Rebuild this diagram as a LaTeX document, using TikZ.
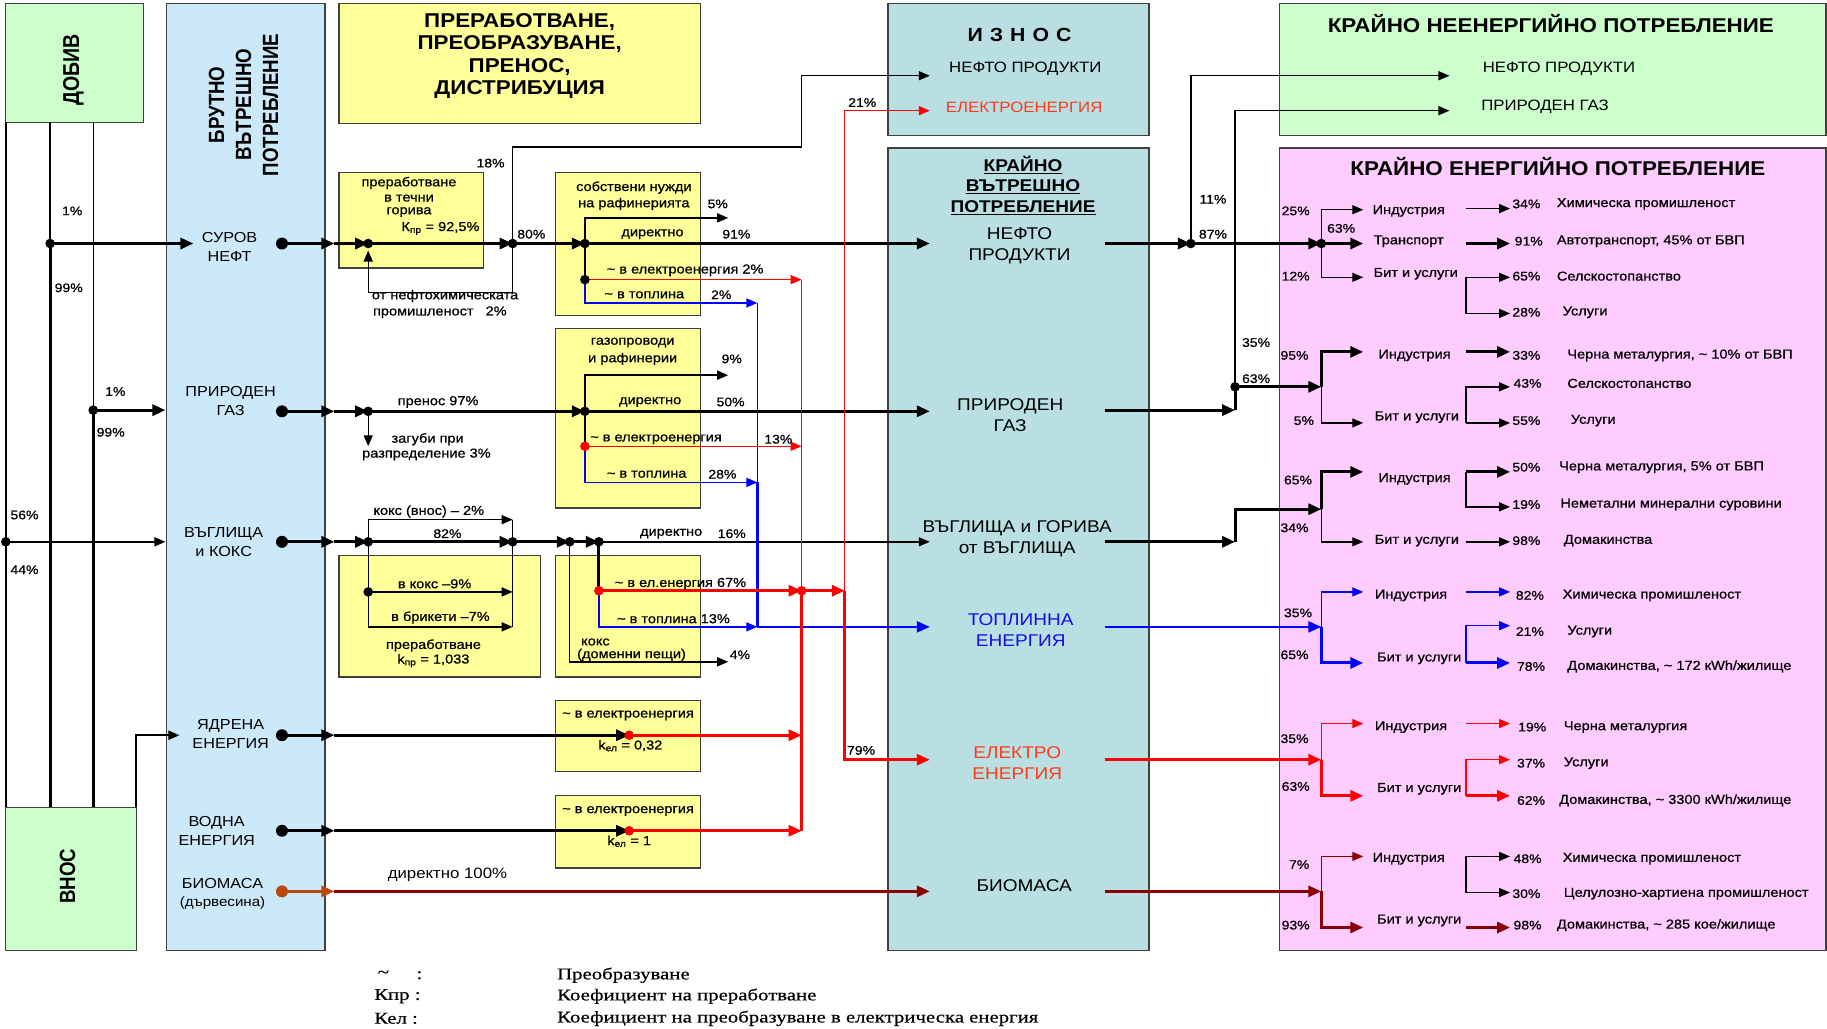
\documentclass[tikz,border=0pt]{standalone}
\usepackage{fontspec}
\setmainfont{Liberation Sans}[FakeStretch=1.12]
\newfontfamily\smallf{Liberation Sans}[FakeStretch=1.12,FakeBold=0.7]
\newfontfamily\rotfont{Liberation Sans}[FakeStretch=0.85]
\newfontfamily\legfont{Liberation Serif}[FakeStretch=1.26,FakeBold=0.5]
\usetikzlibrary{arrows.meta,fit}
\definecolor{gbox}{HTML}{CCFFCC}
\definecolor{bbox}{HTML}{CCE9FA}
\definecolor{ybox}{HTML}{FFFF99}
\definecolor{tbox}{HTML}{B9DFE3}
\definecolor{pbox}{HTML}{FFCCFF}
\definecolor{fred}{HTML}{FF0000}
\definecolor{fblue}{HTML}{0000FF}
\definecolor{fdark}{HTML}{8B0000}
\definecolor{fbrown}{HTML}{B8480C}
\definecolor{tred}{HTML}{FF3A1A}
\definecolor{tblue}{HTML}{1010E0}
\definecolor{edge}{HTML}{404040}
\newcounter{lblc}
\newcommand\lab[3][]{\stepcounter{lblc}\node[tx,#1] (lbl\number\value{lblc}) at (#2) {#3};}
\newcommand\jdotx[2][black]{\fill[#1] (#2) circle[radius=4.8pt];}
\newcommand\rowdot[2][black]{\fill[#1] (#2) circle[radius=6pt];}
\tikzset{
  panel/.style={draw=edge,line width=1.3pt,inner sep=0pt},
  fa/.style={line width=1.4pt},
  fb/.style={line width=3pt},
  fm/.style={line width=2.3pt},
  tipa/.style={-{Triangle[length=11pt,width=9pt]}},
  tipb/.style={-{Triangle[length=13pt,width=11pt]}},
  tx/.style={inner sep=0pt,font=\smallf\fontsize{13}{14.5}\selectfont},
  pc/.style={inner sep=0pt,font=\smallf\fontsize{12.5}{14}\selectfont},
  rowl/.style={inner sep=0pt,align=center,font=\fontsize{14.5}{18.6}\selectfont},
  kvl/.style={inner sep=0pt,align=center,font=\fontsize{17}{21}\selectfont},
  exl/.style={inner sep=0pt,font=\fontsize{15}{18}\selectfont},
  ttl/.style={inner sep=0pt,align=center,font=\bfseries\fontsize{20}{22.4}\selectfont},
  pk/.style={anchor=west},
  leg/.style={inner sep=0pt,anchor=west,font=\legfont\fontsize{16.5}{18}\selectfont},
}
\begin{document}
\begin{tikzpicture}[x=1.1652pt,y=-1.1652pt]
\useasboundingbox (0,0) rectangle (1568,883);
\fill[white] (0,0) rectangle (1568,883);

% ---------- panels ----------
\node[panel,fill=gbox,fit={(5,3) (123,105)}] (dobiv) {};
\node[panel,fill=gbox,fit={(5,693) (117,816)}] (vnos) {};
\node[panel,fill=bbox,fit={(143,3) (279,816)}] (bvp) {};
\node[panel,fill=ybox,fit={(291,3) (601,106)}] (prep) {};
\node[panel,fill=tbox,fit={(762,3) (986,116)}] (iznos) {};
\node[panel,fill=tbox,fit={(762,127) (986,816)}] (kvp) {};
\node[panel,fill=gbox,fit={(1098,3) (1567,116)}] (kne) {};
\node[panel,fill=pbox,fit={(1098,127) (1567,816)}] (kep) {};
\node[panel,fill=ybox,fit={(291,148) (415,230)}] (y1) {};
\node[panel,fill=ybox,fit={(477,148) (601,271)}] (y2) {};
\node[panel,fill=ybox,fit={(477,282) (601,436)}] (y3) {};
\node[panel,fill=ybox,fit={(291,477) (464,581)}] (y4) {};
\node[panel,fill=ybox,fit={(477,477) (601,581)}] (y5) {};
\node[panel,fill=ybox,fit={(477,601) (601,662)}] (y6) {};
\node[panel,fill=ybox,fit={(477,683) (601,745)}] (y7) {};

% ---------- panel titles ----------
\node[inner sep=0pt,rotate=90,font=\rotfont\bfseries\fontsize{23}{26}\selectfont] (tdob) at (63,60) {ДОБИВ};
\node[inner sep=0pt,rotate=90,font=\rotfont\bfseries\fontsize{22}{26}\selectfont] (tvnos) at (58,752) {ВНОС};
\node[inner sep=0pt,rotate=90,align=center,font=\rotfont\bfseries\fontsize{22}{27}\selectfont] (tbvp) at (209,90) {БРУТНО\\ВЪТРЕШНО\\ПОТРЕБЛЕНИЕ};
\node[ttl] (tprep) at (446,48) {ПРЕРАБОТВАНЕ,\\ПРЕОБРАЗУВАНЕ,\\ПРЕНОС,\\ДИСТРИБУЦИЯ};
\node[inner sep=0pt,font=\bfseries\fontsize{19}{22}\selectfont] (tizn) at (875,30) {И\hspace{7pt}З\hspace{7pt}Н\hspace{7pt}О\hspace{7pt}С};
\node[inner sep=0pt,align=center,font=\bfseries\fontsize{17}{20.7}\selectfont] (tkvp) at (878,159) {\underline{КРАЙНО}\\\underline{ВЪТРЕШНО}\\\underline{ПОТРЕБЛЕНИЕ}};
\node[ttl] (tkne) at (1331,20) {КРАЙНО НЕЕНЕРГИЙНО ПОТРЕБЛЕНИЕ};
\node[ttl] (tkep) at (1337,143) {КРАЙНО ЕНЕРГИЙНО ПОТРЕБЛЕНИЕ};

% ---------- left: production / import ----------
\coordinate (d0) at (5,105); \coordinate (v0) at (5,693);
\coordinate (d1) at (43,105); \coordinate (v1) at (43,693);
\coordinate (d2) at (80,105); \coordinate (v2) at (80,693);
\coordinate (j0) at (5,465); \coordinate (j1) at (43,209); \coordinate (j2) at (80,352);
\coordinate (oIn) at (166,209); \coordinate (gIn) at (142,352); \coordinate (cIn) at (142,465);
\coordinate (vC) at (117,693); \coordinate (nIn) at (154,631);
\draw[fa] (d0) -- (v0);
\draw[fa] (d1) -- (j1); \draw[fb] (j1) -- (v1);
\draw[fa] (d2) -- (j2); \draw[fb] (j2) -- (v2);
\draw[fb,tipb] (j1) -- (oIn);
\draw[fb,tipb] (j2) -- (gIn);
\draw[fa,tipa] (j0) -- (cIn);
\draw[line width=2pt,tipa] (vC) |- (nIn);
\jdotx[black]{j0} \jdotx[black]{j1} \jdotx[black]{j2}
\lab[pc]{62,181}{1\%} \lab[pc]{59,247}{99\%}
\lab[pc]{99,336}{1\%} \lab[pc]{95,371}{99\%}
\lab[pc]{21,442}{56\%} \lab[pc]{21,489}{44\%}

% ---------- gross consumption labels ----------
\lab[rowl]{197,212}{СУРОВ\\НЕФТ}
\lab[rowl]{198,344}{ПРИРОДЕН\\ГАЗ}
\lab[rowl]{192,465}{ВЪГЛИЩА\\и КОКС}
\lab[rowl]{198,630}{ЯДРЕНА\\ЕНЕРГИЯ}
\lab[rowl]{186,713}{ВОДНА\\ЕНЕРГИЯ}
\lab[rowl]{191,767}{БИОМАСА\\{\fontsize{13.5}{16}\selectfont(дървесина)}}

% ---------- oil ----------
\coordinate (oS) at (242,209); \coordinate (oE) at (287,209);
\coordinate (oJ1) at (316,209); \coordinate (oJ2) at (440,209); \coordinate (oJ3) at (502,209);
\coordinate (oK) at (798,209);
\coordinate (x18) at (688,126); \coordinate (eN) at (798,65);
\coordinate (fb1) at (316,251); \coordinate (fb2) at (316,215);
\coordinate (o5) at (625,187); \coordinate (oD) at (502,240);
\coordinate (oR) at (688,240); \coordinate (oB) at (650,260);
\draw[fb,tipb] (oS) -- (oE);
\draw[fb,tipb] (oE) -- (oJ1);
\draw[fb,tipb] (oJ1) -- (oJ2);
\draw[fb,tipb] (oJ2) -- (oJ3);
\draw[fb,tipb] (oJ3) -- (oK);
\draw[fa,tipa] (oJ2) |- (x18) |- (eN);
\draw[fa,tipa] (oJ2) |- (fb1) -- (fb2);
\draw[fa,tipa] (oJ3) |- (o5);
\draw[fa] (oJ3) -- (oD);
\draw[fred,fa,tipa] (oD) -- (oR);
\draw[fblue,fa,tipa] (oD) |- (oB);

% ---------- gas ----------
\coordinate (gS) at (242,353); \coordinate (gE) at (287,353);
\coordinate (gJ1) at (316,353); \coordinate (gJ2) at (502,353); \coordinate (gK) at (798,353);
\coordinate (gL) at (316,383); \coordinate (g9) at (625,322);
\coordinate (gD) at (502,383); \coordinate (gR) at (688,383); \coordinate (gB) at (650,414);
\draw[fb,tipb] (gS) -- (gE);
\draw[fb,tipb] (gE) -- (gJ1);
\draw[fb,tipb] (gJ1) -- (gJ2);
\draw[fb,tipb] (gJ2) -- (gK);
\draw[fa,tipa] (gJ1) -- (gL);
\draw[fa,tipa] (gJ2) |- (g9);
\draw[fa] (gJ2) -- (gD);
\draw[fred,fa,tipa] (gD) -- (gR);
\draw[fblue,fa,tipa] (gD) |- (gB);

% ---------- coal ----------
\coordinate (cS) at (242,465); \coordinate (cE) at (287,465);
\coordinate (cJ1) at (316,465); \coordinate (cJ2) at (440,465);
\coordinate (cJ3) at (489,465); \coordinate (cJ4) at (514,465); \coordinate (cK) at (798,465);
\coordinate (cT) at (440,446); \coordinate (cV) at (440,538);
\coordinate (cB0) at (316,538); \coordinate (cK0) at (316,508); \coordinate (cK9) at (440,508);
\coordinate (c4) at (625,568); \coordinate (cD) at (514,507);
\coordinate (rJ) at (688,507); \coordinate (rX) at (725,507);
\coordinate (cBl) at (650,538); \coordinate (hK) at (798,538);
\draw[fb,tipb] (cS) -- (cE);
\draw[fb,tipb] (cE) -- (cJ1);
\draw[fb,tipb] (cJ1) -- (cJ2);
\draw[fb,tipb] (cJ2) -- (cJ3);
\draw[fb,tipb] (cJ3) -- (cJ4);
\draw[fa,tipa] (cJ4) -- (cK);
\draw[fa,tipa] (cJ1) |- (cT);
\draw[fa] (cT) -- (cV);
\draw[fa] (cJ1) -- (cB0);
\draw[fa,tipa] (cK0) -- (cK9);
\draw[fa,tipa] (cB0) -- (cV);
\draw[fa,tipa] (cJ3) |- (c4);
\draw[fb] (cJ4) -- (cD);
\draw[fblue,fa,tipa] (cD) |- (cBl);

% ---------- nuclear, hydro ----------
\coordinate (nS) at (242,631); \coordinate (nE) at (287,631);
\coordinate (nD) at (540,631); \coordinate (nR) at (688,631);
\coordinate (hS) at (242,713); \coordinate (hE) at (287,713);
\coordinate (hD) at (540,713); \coordinate (hR) at (688,713);
\draw[fb,tipb] (nS) -- (nE);
\draw[fb,tipb] (nE) -- (nD);
\draw[fred,fb,tipb] (nD) -- (nR);
\draw[fb,tipb] (hS) -- (hE);
\draw[fb,tipb] (hE) -- (hD);
\draw[fred,fb,tipb] (hD) -- (hR);

% ---------- collectors ----------
\draw[fblue,fa] (oB) -- (gB);
\draw[fblue,fm] (gB) -- (cBl);
\draw[fblue,fm,tipb] (cBl) -- (hK);
\draw[fred,fa] (oR) -- (rJ);
\draw[fred,fb] (rJ) -- (hR);
\draw[fred,fb,tipb] (cD) -- (rJ);
\draw[fred,fb,tipb] (rJ) -- (rX);
\coordinate (e21) at (798,95); \coordinate (eK) at (798,652);
\draw[fred,fa,tipa] (rX) |- (e21);
\draw[fred,fb,tipb] (rX) |- (eK);

% ---------- biomass ----------
\coordinate (bS) at (242,765); \coordinate (bE) at (287,765); \coordinate (bK) at (798,765);
\draw[fbrown,fb,tipb] (bS) -- (bE);
\draw[fdark,fb,tipb] (bE) -- (bK);

% ---------- dots (left/middle) ----------
\rowdot{oS} \rowdot{gS} \rowdot{cS} \rowdot{nS} \rowdot{hS} \rowdot[fbrown]{bS}
\jdotx{oJ1} \jdotx{oJ2} \jdotx{oJ3} \jdotx{oD}
\jdotx{gJ1} \jdotx{gJ2} \jdotx[fred]{gD}
\jdotx{cJ1} \jdotx{cJ2} \jdotx{cJ3} \jdotx{cJ4} \jdotx{cK0} \jdotx[fred]{cD} \jdotx[fred]{rJ}
\jdotx[fred]{nD} \jdotx[fred]{hD}

% ---------- processing texts ----------
\lab{351,157}{преработване}
\lab{351,170}{в течни}
\lab{351,182}{горива}
\lab{378,196}{К\textsubscript{пр} = 92,5\%}
\lab[pc]{421,140}{18\%}
\lab[pc]{456,201}{80\%}
\lab[pk]{319,254}{от нефтохимическата}
\lab[pk]{320,268}{промишленост\hspace{12pt}2\%}
\lab{544,161}{собствени нужди}
\lab{544,175}{на рафинерията}
\lab[pc]{616,175}{5\%}
\lab{560,201}{директно}
\lab[pc]{632,201}{91\%}
\lab{588,232}{\textasciitilde{} в електроенергия 2\%}
\lab{553,253}{\textasciitilde{} в топлина}
\lab[pc]{619,253}{2\%}
\lab{543,294}{газопроводи}
\lab{543,308}{и рафинерии}
\lab[pc]{628,308}{9\%}
\lab{376,345}{пренос 97\%}
\lab{558,345}{директно}
\lab[pc]{627,345}{50\%}
\lab{563,377}{\textasciitilde{} в електроенергия}
\lab[pc]{668,377}{13\%}
\lab{555,407}{\textasciitilde{} в топлина}
\lab[pc]{620,407}{28\%}
\lab{367,377}{загуби при}
\lab{366,390}{разпределение 3\%}
\lab{368,439}{кокс (внос) – 2\%}
\lab[pc]{384,458}{82\%}
\lab{373,501}{в кокс –9\%}
\lab{378,530}{в брикети –7\%}
\lab{372,554}{преработване}
\lab{372,567}{k\textsubscript{пр} = 1,033}
\lab{576,458}{директно}
\lab[pc]{628,458}{16\%}
\lab{584,501}{\textasciitilde{} в ел.енергия 67\%}
\lab{578,531}{\textasciitilde{} в топлина 13\%}
\lab{511,551}{кокс}
\lab{542,562}{(доменни пещи)}
\lab[pc]{635,562}{4\%}
\lab{539,614}{\textasciitilde{} в електроенергия}
\lab{541,640}{k\textsubscript{ел} = 0,32}
\lab{539,696}{\textasciitilde{} в електроенергия}
\lab{540,722}{k\textsubscript{ел} = 1}
\lab[font=\fontsize{15}{17}\selectfont]{384,751}{директно 100\%}
\lab[pc]{740,88}{21\%}
\lab[pc]{739,644}{79\%}

% ---------- export / final domestic ----------
\lab[exl]{880,59}{НЕФТО ПРОДУКТИ}
\lab[exl,text=tred]{879,92}{ЕЛЕКТРОЕНЕРГИЯ}
\lab[kvl]{875,211}{НЕФТО\\ПРОДУКТИ}
\lab[kvl]{867,356}{ПРИРОДЕН\\ГАЗ}
\lab[kvl]{873,462}{ВЪГЛИЩА и ГОРИВА\\от ВЪГЛИЩА}
\lab[kvl,text=tblue]{876,541}{ТОПЛИННА\\ЕНЕРГИЯ}
\lab[kvl,text=tred]{873,655}{ЕЛЕКТРО\\ЕНЕРГИЯ}
\lab[kvl]{879,760}{БИОМАСА}
\lab[exl]{1338,59}{НЕФТО ПРОДУКТИ}
\lab[exl]{1326,92}{ПРИРОДЕН ГАЗ}

% ---------- right flows ----------
\coordinate (oO) at (948,209); \coordinate (oN) at (1022,209); \coordinate (oP) at (1134,209);
\coordinate (neN) at (1244,65);
\coordinate (gO) at (948,352); \coordinate (gA) at (1060,352); \coordinate (gN) at (1060,332);
\coordinate (gP) at (1134,332); \coordinate (neG) at (1244,95);
\coordinate (cO) at (948,465); \coordinate (cA) at (1060,465); \coordinate (cP) at (1134,437);
\coordinate (hO) at (948,538); \coordinate (hP) at (1134,538);
\coordinate (eO) at (948,652); \coordinate (eP) at (1134,652);
\coordinate (bO) at (948,765); \coordinate (bP) at (1134,765);
\draw[fb,tipb] (oO) -- (oN);
\draw[fb,tipb] (oN) -- (oP);
\draw[fa,tipa] (oN) |- (neN);
\draw[fb,tipb] (gO) -- (gA);
\draw[fb] (gA) -- (gN);
\draw[fa,tipa] (gN) |- (neG);
\draw[fb,tipb] (gN) -- (gP);
\draw[fb,tipb] (cO) -- (cA);
\draw[fb,tipb] (cA) |- (cP);
\draw[fblue,fm,tipb] (hO) -- (hP);
\draw[fred,fb,tipb] (eO) -- (eP);
\draw[fdark,fb,tipb] (bO) -- (bP);
\jdotx{oN} \jdotx{oP} \jdotx{gN}

% first-level forks
\coordinate (f1a) at (1170,180); \coordinate (f1b) at (1170,209); \coordinate (f1c) at (1170,238);
\coordinate (f2a) at (1170,302); \coordinate (f2b) at (1170,363);
\coordinate (f3a) at (1170,405); \coordinate (f3b) at (1170,465);
\coordinate (f4a) at (1170,508); \coordinate (f4b) at (1170,569);
\coordinate (f5a) at (1170,621); \coordinate (f5b) at (1170,683);
\coordinate (f6a) at (1170,735); \coordinate (f6b) at (1170,796);
\draw[fa,tipa] (oP) |- (f1a);
\draw[fb,tipb] (oP) -- (f1b);
\draw[fa,tipa] (oP) |- (f1c);
\draw[fb,tipb] (gP) |- (f2a);
\draw[fa,tipa] (gP) |- (f2b);
\draw[fb,tipb] (cP) |- (f3a);
\draw[fa,tipa] (cP) |- (f3b);
\draw[fblue,fa,tipa] (hP) |- (f4a);
\draw[fblue,fb,tipb] (hP) |- (f4b);
\draw[fred,fa,tipa] (eP) |- (f5a);
\draw[fred,fb,tipb] (eP) |- (f5b);
\draw[fdark,fa,tipa] (bP) |- (f6a);
\draw[fdark,fb,tipb] (bP) |- (f6b);

% second-level arrows
\coordinate (s1a) at (1258,179); \coordinate (t1a) at (1296,179);
\coordinate (s1b) at (1258,209); \coordinate (t1b) at (1296,209);
\coordinate (s1c) at (1258,238); \coordinate (t1c) at (1296,238); \coordinate (t1d) at (1296,269);
\draw[fa,tipa] (s1a) -- (t1a);
\draw[fb,tipb] (s1b) -- (t1b);
\draw[fa,tipa] (s1c) -- (t1c);
\draw[fa,tipa] (s1c) |- (t1d);
\coordinate (s2a) at (1258,302); \coordinate (t2a) at (1296,302);
\coordinate (s2b) at (1258,363); \coordinate (t2b) at (1296,363); \coordinate (t2c) at (1296,332);
\draw[fb,tipb] (s2a) -- (t2a);
\draw[fa,tipa] (s2b) -- (t2b);
\draw[fa,tipa] (s2b) |- (t2c);
\coordinate (s3a) at (1258,405); \coordinate (t3a) at (1296,405); \coordinate (t3b) at (1296,435);
\coordinate (s3c) at (1258,465); \coordinate (t3c) at (1296,465);
\draw[fb,tipb] (s3a) -- (t3a);
\draw[fa,tipa] (s3a) |- (t3b);
\draw[fa,tipa] (s3c) -- (t3c);
\coordinate (s4a) at (1258,508); \coordinate (t4a) at (1296,508);
\coordinate (s4b) at (1258,569); \coordinate (t4b) at (1296,569); \coordinate (t4c) at (1296,537);
\draw[fblue,fa,tipa] (s4a) -- (t4a);
\draw[fblue,fb,tipb] (s4b) -- (t4b);
\draw[fblue,fa,tipa] (s4b) |- (t4c);
\coordinate (s5a) at (1258,621); \coordinate (t5a) at (1296,621);
\coordinate (s5b) at (1258,683); \coordinate (t5b) at (1296,683); \coordinate (t5c) at (1296,652);
\draw[fred,fa,tipa] (s5a) -- (t5a);
\draw[fred,fb,tipb] (s5b) -- (t5b);
\draw[fred,fa,tipa] (s5b) |- (t5c);
\coordinate (s6a) at (1258,735); \coordinate (t6a) at (1296,735); \coordinate (t6b) at (1296,766);
\coordinate (s6c) at (1258,796); \coordinate (t6c) at (1296,796);
\draw[fa,tipa] (s6a) -- (t6a);
\draw[fa,tipa] (s6a) |- (t6b);
\draw[fdark,fb,tipb] (s6c) -- (t6c);

% ---------- right percentages ----------
\lab[pc]{1041,171}{11\%} \lab[pc]{1041,201}{87\%}
\lab[pc]{1078,294}{35\%} \lab[pc]{1078,325}{63\%}
\lab[pc]{1112,181}{25\%} \lab[pc]{1151,196}{63\%} \lab[pc]{1112,237}{12\%}
\lab[pc]{1111,305}{95\%} \lab[pc]{1119,361}{5\%}
\lab[pc]{1114,412}{65\%} \lab[pc]{1111,453}{34\%}
\lab[pc]{1114,526}{35\%} \lab[pc]{1111,562}{65\%}
\lab[pc]{1111,634}{35\%} \lab[pc]{1112,675}{63\%}
\lab[pc]{1115,742}{7\%} \lab[pc]{1112,794}{93\%}

% ---------- pink texts ----------
\lab{1209,181}{Индустрия} \lab{1209,207}{Транспорт} \lab{1215,235}{Бит и услуги}
\lab[pc]{1310,175}{34\%} \lab[pk]{1336,175}{Химическа промишленост}
\lab[pc]{1312,207}{91\%} \lab[pk]{1336,207}{Автотранспорт, 45\% от БВП}
\lab[pc]{1310,237}{65\%} \lab[pk]{1336,237}{Селскостопанство}
\lab[pc]{1310,268}{28\%} \lab[pk]{1341,268}{Услуги}

\lab{1214,305}{Индустрия} \lab{1216,358}{Бит и услуги}
\lab[pc]{1310,305}{33\%} \lab[pk]{1345,305}{Черна металургия, \textasciitilde{} 10\% от БВП}
\lab[pc]{1311,329}{43\%} \lab[pk]{1345,329}{Селскостопанство}
\lab[pc]{1310,361}{55\%} \lab[pk]{1348,361}{Услуги}

\lab{1214,411}{Индустрия} \lab{1216,464}{Бит и услуги}
\lab[pc]{1310,401}{50\%} \lab[pk]{1338,401}{Черна металургия, 5\% от БВП}
\lab[pc]{1310,433}{19\%} \lab[pk]{1339,433}{Неметални минерални суровини}
\lab[pc]{1310,464}{98\%} \lab[pk]{1342,464}{Домакинства}

\lab{1211,511}{Индустрия} \lab{1218,565}{Бит и услуги}
\lab[pc]{1313,511}{82\%} \lab[pk]{1341,511}{Химическа промишленост}
\lab[pc]{1313,542}{21\%} \lab[pk]{1345,542}{Услуги}
\lab[pc]{1314,572}{78\%} \lab[pk]{1345,572}{Домакинства, \textasciitilde{} 172 кWh/жилище}

\lab{1211,624}{Индустрия} \lab{1218,677}{Бит и услуги}
\lab[pc]{1315,624}{19\%} \lab[pk]{1342,624}{Черна металургия}
\lab[pc]{1314,655}{37\%} \lab[pk]{1342,655}{Услуги}
\lab[pc]{1314,687}{62\%} \lab[pk]{1338,687}{Домакинства, \textasciitilde{} 3300 кWh/жилище}

\lab{1209,737}{Индустрия} \lab{1218,790}{Бит и услуги}
\lab[pc]{1311,737}{48\%} \lab[pk]{1341,737}{Химическа промишленост}
\lab[pc]{1310,767}{30\%} \lab[pk]{1342,767}{Целулозно-хартиена промишленост}
\lab[pc]{1311,794}{98\%} \lab[pk]{1336,794}{Домакинства, \textasciitilde{} 285 кое/жилище}

% ---------- legend ----------
\node[leg,anchor=center] (lg1) at (329,836) {\textasciitilde};
\node[leg,anchor=center] (lg2) at (360,837) {:};
\node[leg] (lg3) at (321,855) {Кпр :};
\node[leg] (lg4) at (321,874) {Кел :};
\node[leg] (lg5) at (478,837) {Преобразуване};
\node[leg] (lg6) at (478,855) {Коефициент на преработване};
\node[leg] (lg7) at (478,874) {Коефициент на преобразуване в електрическа енергия};
\end{tikzpicture}
\end{document}
